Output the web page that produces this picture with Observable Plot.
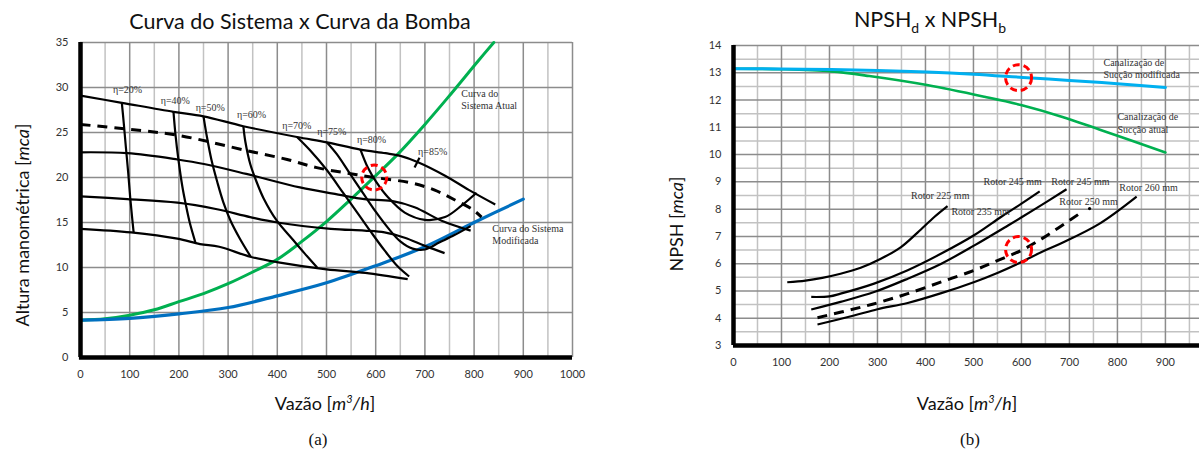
<!DOCTYPE html>
<html><head><meta charset="utf-8">
<script src="https://cdn.jsdelivr.net/npm/d3@7"></script>
<script src="https://cdn.jsdelivr.net/npm/@observablehq/plot@0.6"></script>
<style>
html,body{margin:0;padding:0;background:#fff;overflow:hidden;}
#wrap{position:relative;width:1199px;height:459px;overflow:hidden;}
.abs{position:absolute;white-space:nowrap;color:#111;}
.ttl{font-family:Lato,"Open Sans",sans-serif;font-size:21.5px;transform:translate(-50%,-50%);}
.axl{font-family:Lato,"Open Sans",sans-serif;font-size:18px;transform:translate(-50%,-50%);}
.axly{font-family:Lato,"Open Sans",sans-serif;font-size:18px;transform:translate(-50%,-50%) rotate(-90deg);}
.cap{font-family:"Liberation Serif","DejaVu Serif",serif;font-size:17px;transform:translate(-50%,-50%);}
.svgbox{position:absolute;top:0;}
</style></head>
<body><div id="wrap"></div>
<script>
// ---------- Panel (a): Curva do Sistema x Curva da Bomba ----------
const xTicksA = [0,100,200,300,400,500,600,700,800,900,1000];
const yTicksA = [0,5,10,15,20,25,30,35];
const gridXMajorA = [100,200,300,400,500,600,700,800,900,1000];
const gridXMinorA = [50,150,250,350,450,550,650,750,850,950];
const gridYA = [5,10,15,20,25,30,35];

const curvaRotor1 = [[0,29.1],[84,28.3],[189,27.3],[250,26.8],[331,25.7],[440,24.5],[501,23.9],[569,23.1],[620,22.7],[650,22.4],[686,21.7],[741,20.2],[790,18.6],[843,17.0]];
const curvaRotorTracejada = [[0,25.9],[90,25.4],[197,24.7],[337,23.0],[420,22.0],[480,21.1],[540,20.5],[598,20.0],[672,19.4],[720,18.6],[761,17.5],[798,16.4],[815,15.6]];
const curvaRotor3 = [[0,22.8],[95,22.7],[197,22.0],[251,21.5],[337,20.4],[446,18.9],[524,18.1],[577,17.6],[632,17.4],[679,16.7],[734,15.2],[793,14.1]];
const curvaRotor4 = [[0,17.9],[95,17.6],[197,17.2],[275,16.5],[345,15.6],[400,15.0],[509,14.3],[577,14.1],[618,13.9],[659,13.3],[700,12.4],[740,11.6]];
const curvaRotor5 = [[0,14.3],[103,13.9],[197,13.2],[243,12.6],[282,12.3],[345,11.2],[399,10.6],[500,9.8],[579,9.4],[665,8.7]];

const eta20 = [[84,28.3],[88,26.0],[92,23.5],[97,20.5],[101,17.8],[105,15.5],[108,13.9]];
const eta40 = [[189,27.3],[193,24.8],[199,22.0],[207,19.0],[214,17.0],[222,15.0],[234,12.7]];
const eta50 = [[250,26.8],[257,24.5],[266,22.0],[278,19.5],[290,17.3],[305,15.2],[324,13.2],[346,11.2]];
const eta60 = [[331,25.7],[335,24.0],[345,21.5],[358,19.5],[372,17.7],[399,15.2],[430,13.2],[455,11.6],[481,10.0]];
const eta70 = [[440,24.5],[467,23.0],[501,20.8],[535,18.2],[569,15.6],[591,13.9],[618,11.9],[645,10.1],[668,9.0]];
const eta75 = [[501,23.9],[521,22.6],[548,20.4],[575,18.2],[600,16.2],[625,14.4],[650,12.9],[675,12.1],[700,12.0],[730,12.8],[760,13.6],[793,14.6]];
const eta80 = [[569,23.1],[584,21.1],[600,19.6],[625,17.8],[659,16.1],[700,15.3],[741,15.6],[775,16.9],[805,18.3]];
const eta85 = [[679,21.1],[689,22.2]];

const sistemaAtual = [[0,4.15],[50,4.3],[100,4.7],[150,5.3],[200,6.2],[250,7.1],[300,8.2],[350,9.5],[400,10.9],[450,12.9],[500,15.1],[550,17.6],[600,20.2],[645,22.6],[700,25.9],[747,28.9],[809,33.0],[840,35.0]];
const sistemaModificado = [[0,4.15],[100,4.35],[200,4.85],[300,5.55],[400,6.85],[500,8.3],[600,10.2],[700,12.3],[800,15.0],[900,17.6]];

const pontoA = [[597,20.0]];
const rotulosA = [
  {x:66,y:29.8,t:"η=20%"},{x:163,y:28.5,t:"η=40%"},{x:234,y:27.7,t:"η=50%"},
  {x:318,y:27.0,t:"η=60%"},{x:410,y:25.8,t:"η=70%"},{x:481,y:25.1,t:"η=75%"},
  {x:562,y:24.2,t:"η=80%"},{x:686,y:22.9,t:"η=85%"},
  {x:774,y:29.3,t:"Curva do"},{x:774,y:28.0,t:"Sistema Atual"},
  {x:837,y:14.3,t:"Curva do Sistema"},{x:837,y:13.0,t:"Modificada"}
];

// ---------- Panel (b): NPSHd x NPSHb ----------
const xTicksB = [0,100,200,300,400,500,600,700,800,900];
const yTicksB = [3,4,5,6,7,8,9,10,11,12,13,14];
const gridXMajorB = [100,200,300,400,500,600,700,800,900];
const gridXMinorB = [50,150,250,350,450,550,650,750,850,950];
const gridYMajorB = [4,5,6,7,8,9,10,11,12,13,14];
const gridYMinorB = [3.5,4.5,5.5,6.5,7.5,8.5,9.5,10.5,11.5,12.5,13.5];

const succaoModificada = [[0,13.15],[100,13.14],[204,13.12],[300,13.08],[403,13.03],[500,12.95],[603,12.83],[700,12.72],[800,12.6],[900,12.46]];
const succaoAtual = [[0,13.15],[100,13.13],[204,13.05],[283,12.88],[403,12.55],[523,12.12],[603,11.8],[682,11.4],[762,10.92],[900,10.08]];
const rotor225 = [[112,5.32],[150,5.38],[185,5.48],[223,5.63],[265,5.85],[307,6.18],[349,6.61],[384,7.15],[419,7.72],[446,8.11]];
const rotor245a = [[162,4.78],[200,4.80],[223,4.9],[293,5.27],[363,5.76],[433,6.37],[502,7.05],[558,7.72],[600,8.2],[638,8.65]];
const rotor245b = [[162,4.32],[223,4.6],[293,4.96],[363,5.45],[433,6.0],[502,6.67],[572,7.4],[628,8.0],[694,8.73]];
const rotor250 = [[175,4.02],[265,4.4],[307,4.6],[363,4.9],[433,5.33],[502,5.76],[551,6.12],[600,6.49],[642,6.91],[676,7.3],[718,7.8]];
const rotor250Fim = [[742,8.02]];
const rotor260 = [[175,3.77],[251,4.1],[300,4.33],[363,4.56],[433,4.92],[502,5.33],[551,5.67],[600,6.06],[642,6.43],[683,6.75],[762,7.46],[840,8.46]];
const pontosB = [[594,12.82],[594,6.52]];
const rotulosB = [
  {x:771,y:13.38,t:"Canalização de"},{x:771,y:12.94,t:"Sucção modificada"},
  {x:800,y:11.37,t:"Canalização de"},{x:800,y:10.9,t:"Sucção atual"},
  {x:370,y:8.50,t:"Rotor 225 mm"},{x:454,y:7.9,t:"Rotor 235 mm"},
  {x:521,y:9.01,t:"Rotor 245 mm"},{x:662,y:9.01,t:"Rotor 245 mm"},
  {x:679,y:8.28,t:"Rotor 250 mm"},{x:804,y:8.79,t:"Rotor 260 mm"}
];

const X = d => d[0], Y = d => d[1];
const serif = "Liberation Serif, DejaVu Serif, serif";
function blk(data, dashed){
  return Plot.line(data, {x:X, y:Y, curve:"catmull-rom", stroke:"#000", strokeWidth: dashed?3:2.2,
    strokeDasharray: dashed ? "10,7" : null, strokeLinecap:"butt"});
}

const plotA = Plot.plot({
  width:600, height:390, marginLeft:80, marginRight:28, marginTop:42, marginBottom:33,
  x:{domain:[0,1000], ticks:xTicksA, tickFormat:d=>String(d), tickSize:0, tickPadding:13, label:null},
  y:{domain:[0,35], ticks:yTicksA, tickFormat:d=>String(d), tickSize:0, tickPadding:12, label:null},
  style:{fontFamily:"Lato, Open Sans, sans-serif", fontSize:"11px", color:"#333", background:"transparent", overflow:"visible"},
  marks:[
    Plot.ruleX(gridXMinorA, {stroke:"#c2c2c2", strokeWidth:1.5}),
    Plot.ruleX(gridXMajorA, {stroke:"#8c8c8c", strokeWidth:1.5}),
    Plot.ruleY(gridYA, {stroke:"#8c8c8c", strokeWidth:1.5}),
    Plot.line(sistemaAtual, {x:X, y:Y, curve:"catmull-rom", stroke:"#00B050", strokeWidth:3}),
    Plot.line(sistemaModificado, {x:X, y:Y, curve:"catmull-rom", stroke:"#0070C0", strokeWidth:3.2}),
    blk(curvaRotor1), blk(curvaRotorTracejada,true), blk(curvaRotor3), blk(curvaRotor4), blk(curvaRotor5),
    blk(eta20), blk(eta40), blk(eta50), blk(eta60), blk(eta70), blk(eta75), blk(eta80), blk(eta85),
    Plot.dot(pontoA, {x:X, y:Y, r:12.5, stroke:"#FF0000", strokeWidth:3, fill:"none", strokeDasharray:"7,4"}),
    Plot.text(rotulosA, {x:"x", y:"y", text:"t", textAnchor:"start", fontFamily:serif, fontSize:10, fill:"#333"}),
    Plot.ruleX([0], {stroke:"#000", strokeWidth:4.5}),
    Plot.ruleY([0], {stroke:"#000", strokeWidth:4.5, x1:-2.2, x2:1000})
  ]
});

const plotB = Plot.plot({
  width:599, height:378, marginLeft:133, marginRight:0, marginTop:45, marginBottom:33,
  x:{domain:[0,971], ticks:xTicksB, tickFormat:d=>String(d), tickSize:0, tickPadding:13, label:null},
  y:{domain:[3,14], ticks:yTicksB, tickFormat:d=>String(d), tickSize:0, tickPadding:12, label:null},
  style:{fontFamily:"Lato, Open Sans, sans-serif", fontSize:"11px", color:"#333", background:"transparent", overflow:"visible"},
  marks:[
    Plot.ruleX(gridXMinorB, {stroke:"#c2c2c2", strokeWidth:1.5}),
    Plot.ruleY(gridYMinorB, {stroke:"#c2c2c2", strokeWidth:1.5}),
    Plot.ruleX(gridXMajorB, {stroke:"#8c8c8c", strokeWidth:1.5}),
    Plot.ruleY(gridYMajorB, {stroke:"#8c8c8c", strokeWidth:1.5}),
    Plot.line(succaoAtual, {x:X, y:Y, curve:"catmull-rom", stroke:"#00B050", strokeWidth:2.6}),
    Plot.line(succaoModificada, {x:X, y:Y, curve:"catmull-rom", stroke:"#00B0F0", strokeWidth:3}),
    blk(rotor225), blk(rotor245a), blk(rotor245b), blk(rotor250,true), blk(rotor260),
    Plot.dot(rotor250Fim, {x:X, y:Y, r:1.6, fill:"#000"}),
    Plot.dot(pontosB, {x:X, y:Y, r:13, stroke:"#FF0000", strokeWidth:3, fill:"none", strokeDasharray:"7,4"}),
    Plot.text(rotulosB, {x:"x", y:"y", text:"t", textAnchor:"start", fontFamily:serif, fontSize:10, fill:"#333"}),
    Plot.ruleX([0], {stroke:"#000", strokeWidth:4.5}),
    Plot.ruleY([3], {stroke:"#000", strokeWidth:4.5})
  ]
});

const wrap = document.getElementById("wrap");
function place(node, left){ const d=document.createElement("div"); d.className="svgbox"; d.style.left=left+"px"; d.appendChild(node); wrap.appendChild(d); }
place(plotA, 0); place(plotB, 600);
function txt(cls, x, y, html){ const d=document.createElement("div"); d.className="abs "+cls; d.style.left=x+"px"; d.style.top=y+"px"; d.innerHTML=html; wrap.appendChild(d); }
txt("ttl", 300, 21, "Curva do Sistema x Curva da Bomba");
txt("ttl", 930, 21, "NPSH<sub style='font-size:14px'>d</sub> x NPSH<sub style='font-size:14px'>b</sub>");
txt("axly", 22, 225, "Altura manométrica [<i>mca</i>]");
txt("axly", 676, 224, "NPSH [<i>mca</i>]");
txt("axl", 325, 403, "Vazão [<i>m<sup style='font-size:11px'>3</sup>/h</i>]");
txt("axl", 967, 403, "Vazão [<i>m<sup style='font-size:11px'>3</sup>/h</i>]");
txt("cap", 318, 440, "(a)");
txt("cap", 970, 440, "(b)");
</script></body></html>
